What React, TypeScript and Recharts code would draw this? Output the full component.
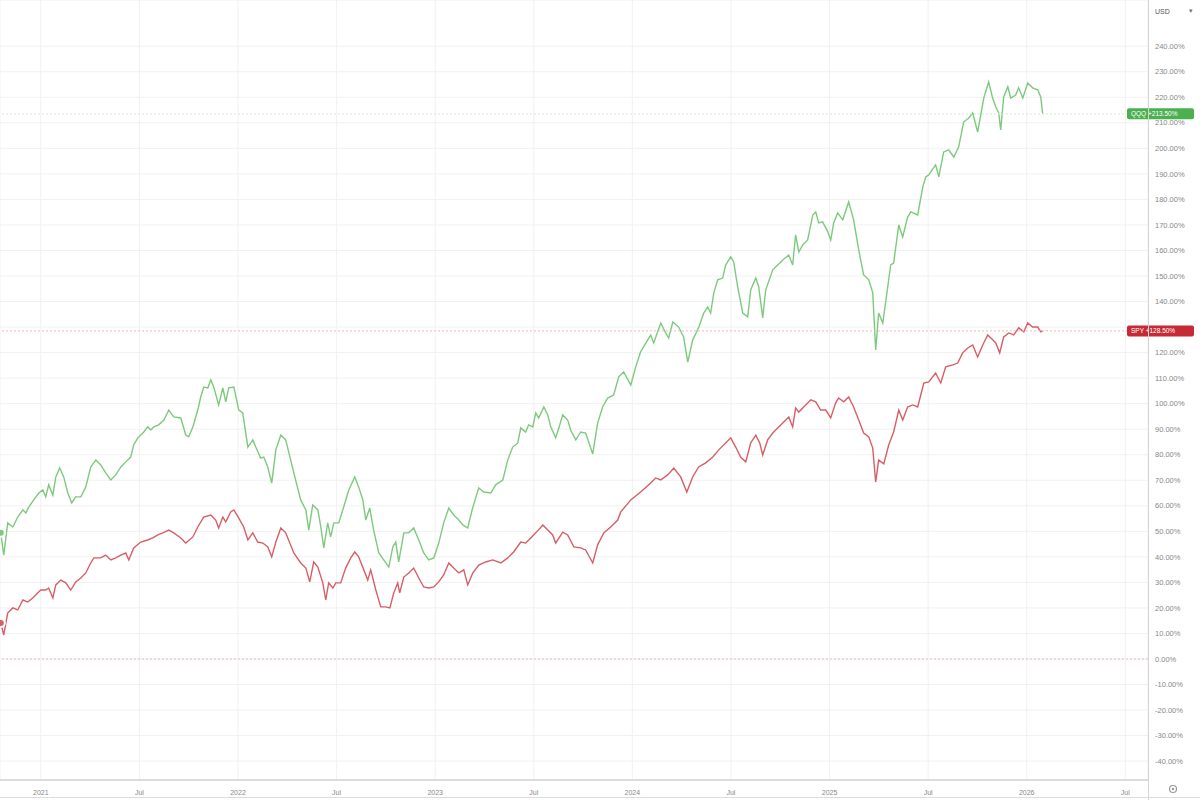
import React from "react";
import {
  LineChart,
  Line,
  XAxis,
  YAxis,
  CartesianGrid,
  ReferenceLine,
} from "recharts";

// time is in decimal years, values are % change
const qqqTime = [
  2020.797, 2020.812, 2020.832, 2020.858, 2020.883, 2020.909, 2020.924, 2020.939, 2020.964, 2020.99,
  2021.01, 2021.025, 2021.04, 2021.061, 2021.076, 2021.096, 2021.116, 2021.137, 2021.157, 2021.177,
  2021.203, 2021.228, 2021.253, 2021.279, 2021.304, 2021.329, 2021.355, 2021.38, 2021.406, 2021.431,
  2021.456, 2021.471, 2021.492, 2021.522, 2021.542, 2021.558, 2021.573, 2021.598, 2021.624, 2021.649,
  2021.674, 2021.71, 2021.735, 2021.75, 2021.771, 2021.796, 2021.811, 2021.826, 2021.847, 2021.862,
  2021.877, 2021.902, 2021.923, 2021.938, 2021.953, 2021.979, 2022.004, 2022.024, 2022.05, 2022.075,
  2022.09, 2022.115, 2022.131, 2022.151, 2022.171, 2022.192, 2022.217, 2022.242, 2022.283, 2022.318,
  2022.344, 2022.359, 2022.379, 2022.405, 2022.42, 2022.435, 2022.455, 2022.47, 2022.486, 2022.511,
  2022.536, 2022.562, 2022.592, 2022.612, 2022.633, 2022.648, 2022.668, 2022.688, 2022.714, 2022.739,
  2022.765, 2022.785, 2022.8, 2022.815, 2022.841, 2022.866, 2022.891, 2022.917, 2022.942, 2022.967,
  2022.993, 2023.018, 2023.043, 2023.069, 2023.094, 2023.12, 2023.14, 2023.165, 2023.191, 2023.221,
  2023.246, 2023.282, 2023.307, 2023.343, 2023.368, 2023.393, 2023.419, 2023.434, 2023.459, 2023.474,
  2023.495, 2023.51, 2023.525, 2023.551, 2023.571, 2023.586, 2023.611, 2023.627, 2023.647, 2023.672,
  2023.687, 2023.713, 2023.738, 2023.763, 2023.799, 2023.824, 2023.849, 2023.875, 2023.905, 2023.931,
  2023.956, 2023.992, 2024.017, 2024.042, 2024.078, 2024.093, 2024.108, 2024.144, 2024.169, 2024.184,
  2024.205, 2024.235, 2024.26, 2024.281, 2024.306, 2024.336, 2024.362, 2024.382, 2024.397, 2024.413,
  2024.433, 2024.458, 2024.473, 2024.499, 2024.514, 2024.534, 2024.56, 2024.585, 2024.6, 2024.626,
  2024.641, 2024.661, 2024.676, 2024.712, 2024.737, 2024.763, 2024.793, 2024.813, 2024.828, 2024.844,
  2024.864, 2024.889, 2024.915, 2024.93, 2024.945, 2024.965, 2024.991, 2025.006, 2025.021, 2025.041,
  2025.067, 2025.097, 2025.122, 2025.148, 2025.173, 2025.199, 2025.219, 2025.234, 2025.249, 2025.27,
  2025.295, 2025.31, 2025.325, 2025.351, 2025.371, 2025.396, 2025.412, 2025.447, 2025.473, 2025.488,
  2025.503, 2025.538, 2025.554, 2025.579, 2025.604, 2025.63, 2025.655, 2025.68, 2025.706, 2025.726,
  2025.751, 2025.767, 2025.782, 2025.807, 2025.827, 2025.843, 2025.858, 2025.868, 2025.883, 2025.904,
  2025.919, 2025.944, 2025.959, 2025.98, 2026.005, 2026.03, 2026.056, 2026.071, 2026.081,
];

const qqqPct = [
  49.4, 40.7, 53.3, 51.7, 55.6, 58.4, 57.2, 59.5, 62.3, 65.0,
  66.2, 63.5, 68.2, 64.2, 71.3, 74.8, 71.3, 65.0, 61.1, 63.5,
  63.5, 67.4, 75.2, 77.9, 76.0, 72.9, 70.1, 72.1, 75.2, 77.2,
  79.1, 83.8, 86.6, 88.9, 90.9, 89.7, 90.9, 91.7, 93.6, 97.5,
  94.8, 94.4, 87.7, 87.0, 90.9, 97.5, 102.6, 106.5, 106.2, 109.3,
  106.5, 99.5, 106.2, 100.7, 106.2, 106.5, 97.5, 96.4, 83.0, 85.8,
  83.0, 78.7, 79.1, 75.2, 68.9, 81.9, 87.7, 85.8, 72.9, 62.3,
  58.4, 50.5, 60.3, 58.4, 51.7, 43.5, 53.3, 47.8, 53.3, 53.3,
  59.5, 66.2, 71.3, 67.4, 62.3, 54.4, 59.1, 50.5, 41.5, 38.8,
  36.0, 43.9, 45.8, 38.0, 49.4, 49.4, 51.3, 46.6, 41.5, 38.8,
  39.6, 45.4, 53.3, 59.1, 56.4, 54.4, 52.5, 51.3, 59.5, 67.0,
  65.4, 65.0, 68.2, 70.1, 77.9, 83.0, 84.6, 90.5, 88.9, 91.7,
  90.9, 96.4, 94.4, 98.7, 95.6, 90.9, 86.6, 90.5, 95.6, 93.6,
  89.7, 85.8, 88.9, 88.5, 80.3, 92.4, 98.7, 102.2, 103.4, 110.5,
  112.4, 107.3, 114.4, 120.3, 125.0, 126.9, 123.8, 131.6, 127.7, 125.7,
  132.0, 130.0, 126.1, 116.3, 125.0, 129.7, 135.5, 137.9, 135.5, 143.4,
  148.5, 149.2, 154.3, 157.5, 155.5, 145.7, 135.5, 134.0, 144.5, 149.2,
  145.7, 133.6, 144.5, 152.4, 154.3, 156.3, 158.2, 154.3, 166.1, 159.4,
  162.2, 164.1, 173.9, 175.1, 170.8, 171.2, 167.3, 164.1, 170.8, 174.7,
  172.0, 179.0, 172.0, 160.2, 150.4, 148.5, 143.4, 121.0, 135.5, 131.6,
  145.7, 154.3, 155.1, 170.0, 165.3, 173.1, 175.1, 173.9, 184.9, 188.8,
  189.6, 193.5, 188.8, 198.6, 199.4, 196.6, 200.6, 210.3, 211.9, 213.9,
  206.4, 213.1, 219.7, 226.0, 219.7, 216.2, 213.9, 207.2, 220.1, 224.1,
  219.7, 220.9, 223.7, 219.7, 225.6, 223.7, 222.9, 220.1, 213.5,
];

const spyTime = [
  2020.797, 2020.812, 2020.832, 2020.858, 2020.883, 2020.909, 2020.934, 2020.959, 2020.985, 2021.0,
  2021.025, 2021.04, 2021.061, 2021.076, 2021.101, 2021.127, 2021.152, 2021.177, 2021.203, 2021.228,
  2021.253, 2021.269, 2021.304, 2021.329, 2021.355, 2021.38, 2021.406, 2021.431, 2021.446, 2021.471,
  2021.507, 2021.542, 2021.568, 2021.593, 2021.619, 2021.649, 2021.674, 2021.71, 2021.735, 2021.771,
  2021.796, 2021.826, 2021.862, 2021.887, 2021.902, 2021.923, 2021.938, 2021.963, 2021.979, 2022.004,
  2022.029, 2022.05, 2022.075, 2022.1, 2022.126, 2022.151, 2022.171, 2022.192, 2022.217, 2022.242,
  2022.283, 2022.318, 2022.344, 2022.364, 2022.384, 2022.405, 2022.43, 2022.445, 2022.46, 2022.481,
  2022.496, 2022.521, 2022.546, 2022.572, 2022.592, 2022.612, 2022.638, 2022.658, 2022.673, 2022.699,
  2022.724, 2022.749, 2022.77, 2022.79, 2022.81, 2022.82, 2022.841, 2022.866, 2022.891, 2022.917,
  2022.942, 2022.967, 2022.993, 2023.018, 2023.043, 2023.069, 2023.094, 2023.12, 2023.145, 2023.165,
  2023.191, 2023.221, 2023.256, 2023.292, 2023.333, 2023.368, 2023.398, 2023.434, 2023.459, 2023.485,
  2023.51, 2023.546, 2023.571, 2023.596, 2023.611, 2023.647, 2023.672, 2023.703, 2023.738, 2023.763,
  2023.799, 2023.824, 2023.855, 2023.89, 2023.926, 2023.941, 2023.992, 2024.042, 2024.093, 2024.118,
  2024.144, 2024.179, 2024.21, 2024.245, 2024.276, 2024.306, 2024.336, 2024.372, 2024.408, 2024.438,
  2024.473, 2024.499, 2024.524, 2024.549, 2024.575, 2024.6, 2024.626, 2024.646, 2024.661, 2024.686,
  2024.712, 2024.742, 2024.778, 2024.793, 2024.813, 2024.828, 2024.844, 2024.869, 2024.905, 2024.93,
  2024.955, 2024.981, 2025.006, 2025.031, 2025.046, 2025.072, 2025.097, 2025.122, 2025.148, 2025.173,
  2025.199, 2025.219, 2025.234, 2025.249, 2025.275, 2025.3, 2025.325, 2025.351, 2025.371, 2025.396,
  2025.422, 2025.447, 2025.478, 2025.503, 2025.538, 2025.564, 2025.589, 2025.625, 2025.65, 2025.675,
  2025.701, 2025.726, 2025.751, 2025.777, 2025.802, 2025.827, 2025.843, 2025.863, 2025.883, 2025.909,
  2025.934, 2025.959, 2025.985, 2026.005, 2026.03, 2026.056, 2026.071, 2026.081,
];

const spyPct = [
  14.1, 9.4, 18.0, 20.0, 19.2, 23.1, 22.3, 23.9, 25.9, 27.0,
  27.0, 27.8, 23.9, 29.0, 30.9, 29.8, 27.0, 30.2, 31.7, 33.7,
  37.6, 39.6, 39.6, 40.7, 38.8, 39.6, 40.7, 41.5, 38.8, 43.5,
  45.8, 46.6, 47.4, 48.6, 49.4, 50.5, 49.4, 47.4, 45.4, 47.8,
  51.7, 55.6, 56.4, 54.4, 51.3, 55.6, 53.7, 57.6, 58.4, 55.2,
  51.7, 46.6, 49.4, 45.8, 45.4, 43.9, 40.0, 45.8, 51.3, 49.4,
  41.5, 37.6, 35.6, 30.2, 38.0, 36.0, 29.8, 23.1, 29.8, 27.8,
  29.8, 29.8, 35.6, 39.6, 41.9, 40.0, 34.9, 30.9, 34.9, 27.0,
  20.4, 20.4, 20.0, 25.9, 29.8, 25.9, 32.1, 33.7, 35.6, 31.7,
  28.2, 27.8, 28.2, 30.2, 32.9, 37.6, 35.6, 33.7, 34.9, 29.0,
  33.7, 36.8, 38.0, 38.8, 37.6, 39.6, 41.9, 45.8, 45.4, 47.4,
  49.4, 52.5, 50.5, 48.6, 45.4, 49.7, 48.6, 43.9, 43.5, 42.7,
  37.6, 44.7, 49.4, 51.7, 54.4, 57.6, 62.3, 65.4, 68.9, 70.9,
  70.1, 72.1, 74.8, 71.3, 65.4, 71.3, 75.2, 76.8, 79.1, 81.9,
  84.6, 86.6, 83.0, 79.1, 77.2, 84.6, 87.7, 84.6, 79.9, 85.8,
  88.5, 90.9, 93.6, 94.8, 90.9, 98.3, 96.7, 98.7, 101.5, 100.7,
  97.5, 97.5, 94.4, 100.3, 102.2, 100.7, 102.6, 98.7, 93.6, 88.5,
  87.0, 82.6, 69.3, 77.9, 76.4, 83.8, 88.9, 97.5, 93.6, 98.7,
  99.5, 98.7, 108.1, 108.5, 112.0, 108.1, 114.4, 115.2, 115.9, 119.9,
  121.8, 123.0, 118.3, 123.0, 126.9, 125.0, 123.8, 119.9, 126.1, 127.7,
  126.9, 129.7, 128.1, 131.6, 130.0, 130.0, 128.1, 128.5,
];

const xTicks = [2021, 2021.5, 2022, 2022.5, 2023, 2023.5, 2024, 2024.5, 2025, 2025.5, 2026, 2026.5];
const yTicks = [
  -40, -30, -20, -10, 0, 10, 20, 30, 40, 50, 60, 70, 80, 90, 100, 110, 120, 130, 140,
  150, 160, 170, 180, 190, 200, 210, 220, 230, 240,
];

const qqqData = qqqTime.map((t, i) => ({ t, v: qqqPct[i] }));
const spyData = spyTime.map((t, i) => ({ t, v: spyPct[i] }));
const qqqLast = qqqPct[qqqPct.length - 1];
const spyLast = spyPct[spyPct.length - 1];

const GREEN = "#7dca7d";
const RED = "#d75e66";

// price tag sitting on the right axis, like the trading widget
const PriceTag = (props: any) => {
  const { viewBox, text, fill } = props;
  if (!viewBox) return null;
  const x = viewBox.x + viewBox.width - 21;
  const y = viewBox.y;
  return (
    <g>
      <rect x={x} y={y - 5.5} width={67} height={11} rx={2} fill={fill} />
      <text x={x + 4} y={y + 2.5} fontSize={6.5} fill="#fff">
        {text}
      </text>
    </g>
  );
};

const App = () => {
  return (
    <div
      style={{
        position: "relative",
        width: 1200,
        height: 800,
        background: "#fff",
        fontFamily: "'Liberation Sans', Arial, sans-serif",
      }}
    >
      <style>{"body{margin:0}"}</style>
      <LineChart width={1200} height={800} margin={{ top: 0, right: 0, bottom: 0, left: 0 }}>
        <CartesianGrid stroke="#f1f1f1" />
        <XAxis
          dataKey="t"
          type="number"
          domain={[2020.793, 2026.615]}
          ticks={xTicks}
          allowDataOverflow
          height={20}
          tickLine={false}
          axisLine={{ stroke: "#dcdcdc", strokeWidth: 2 }}
          tick={{ fontSize: 7, fill: "#888" }}
          tickMargin={4}
          tickFormatter={(t: number) => (Number.isInteger(t) ? String(t) : "Jul")}
        />
        <YAxis
          orientation="right"
          width={52}
          domain={[-47.4, 258.1]}
          ticks={yTicks}
          allowDataOverflow
          axisLine={false}
          tickLine={false}
          tickSize={5}
          tickMargin={2}
          tick={{ fontSize: 7.5, fill: "#888", textAnchor: "start" }}
          // the 130% label sits under the SPY price tag
          tickFormatter={(v: number) => (v === 130 ? "" : `${v.toFixed(2)}%`)}
        />
        <ReferenceLine y={0} stroke="#f2b8b8" strokeDasharray="2 2" />
        <Line
          data={qqqData}
          dataKey="v"
          type="linear"
          stroke={GREEN}
          strokeWidth={1.4}
          dot={false}
          isAnimationActive={false}
        />
        <Line
          data={spyData}
          dataKey="v"
          type="linear"
          stroke={RED}
          strokeWidth={1.4}
          dot={false}
          isAnimationActive={false}
        />
        <ReferenceLine
          y={qqqLast}
          stroke="#d5e8d5"
          strokeDasharray="2 2"
          label={<PriceTag fill="#4caf50" text={`QQQ  +${qqqLast.toFixed(2)}%`} />}
        />
        <ReferenceLine
          y={spyLast}
          stroke="#f2b8b8"
          strokeDasharray="2 2"
          label={<PriceTag fill="#c62a35" text={`SPY  +${spyLast.toFixed(2)}%`} />}
        />
      </LineChart>
      <div style={{ position: "absolute", left: 1148, top: 0, width: 1, height: 800, background: "#d4d4d4" }} />
      <div style={{ position: "absolute", left: 0, top: 797, width: 1200, height: 1, background: "#dcdcdc" }} />
      <div style={{ position: "absolute", left: 1155, top: 8, fontSize: 7, color: "#555" }}>USD</div>
      <div style={{ position: "absolute", left: 1189, top: 7, fontSize: 7, color: "#777" }}>▾</div>
      <svg style={{ position: "absolute", left: 1168, top: 784 }} width={10} height={10}>
        <circle cx={5} cy={5} r={3.5} fill="none" stroke="#999" strokeWidth={1.2} />
        <circle cx={5} cy={5} r={1.2} fill="#999" />
      </svg>
    </div>
  );
};

export default App;
